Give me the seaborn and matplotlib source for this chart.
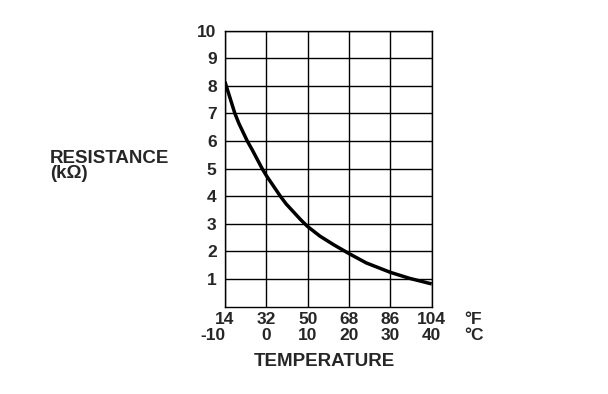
import matplotlib
matplotlib.use('Agg')
import matplotlib.pyplot as plt
import matplotlib.transforms as mtransforms
import seaborn as sns
import pandas as pd

# curve (temperature in deg C, resistance in kOhm)
temp_c = [-10, -7.6, -6.6, -4.6, -3.4, -1.0, 0, 3.4, 4.8, 8.3, 10,
          13, 16.3, 20, 24.2, 30, 34.7, 40]
resistance = [8.15, 7.0, 6.63, 6.0, 5.68, 5.0, 4.75, 4.0, 3.72, 3.15, 2.9,
              2.55, 2.24, 1.92, 1.58, 1.24, 1.02, 0.82]

# axis ticks
c_ticks = [-10, 0, 10, 20, 30, 40]
f_labels = ["14", "32", "50", "68", "86", "104"]
c_labels = ["-10", "0", "10", "20", "30", "40"]
y_ticks = [1, 2, 3, 4, 5, 6, 7, 8, 9, 10]

sns.set_theme(style="white")
plt.rcParams['font.family'] = ['Liberation Sans', 'DejaVu Sans']
plt.rcParams['font.weight'] = 'bold'

df = pd.DataFrame({"temp": temp_c, "res": resistance})

fig = plt.figure(figsize=(6.08, 3.94), dpi=100)
ax = fig.add_axes([0.370, 0.222, 0.340, 0.700])

sns.lineplot(data=df, x="temp", y="res", color="black", linewidth=2.5,
             solid_joinstyle="round", solid_capstyle="butt", ax=ax)

ax.set_xlim(-10, 40)
ax.set_ylim(0, 10)
ax.set_xticks(c_ticks)
ax.set_yticks(y_ticks)
ax.grid(True, color="black", linewidth=1.0)
for s in ax.spines.values():
    s.set_color("black")
    s.set_linewidth(1.0)

tick_fs = 12.5
ax.set_yticklabels([str(v) for v in y_ticks], fontsize=tick_fs, fontweight="bold")
ax.tick_params(axis="y", length=0, pad=6)
ax.set_xticklabels(f_labels, fontsize=tick_fs, fontweight="bold")
ax.tick_params(axis="x", length=0, pad=4)
ax.set_xlabel("")
ax.set_ylabel("")

# celsius row under the fahrenheit labels
trans = mtransforms.blended_transform_factory(ax.transData, fig.transFigure)
for x, lab in zip(c_ticks, c_labels):
    dx = -3.0 if lab == "-10" else 0
    ax.text(x + dx, 1 - 335 / 394, lab, transform=trans, ha="center", va="center",
            fontsize=tick_fs, fontweight="bold")

fig.text(464 / 608, 1 - 319 / 394, "°F", ha="left", va="center", fontsize=tick_fs, fontweight="bold")
fig.text(464 / 608, 1 - 335 / 394, "°C", ha="left", va="center", fontsize=tick_fs, fontweight="bold")

# y-axis title as one two-line text block
fig.text(50 / 608, 1 - 150 / 394, "RESISTANCE\n(k\u03a9)", ha="left", va="top",
         fontsize=13.5, fontweight="bold", linespacing=0.85)

fig.text(324 / 608, 1 - 362 / 394, "TEMPERATURE", ha="center", va="center", fontsize=13.5, fontweight="bold")

fig.savefig("out.png", dpi=100, facecolor="white")
